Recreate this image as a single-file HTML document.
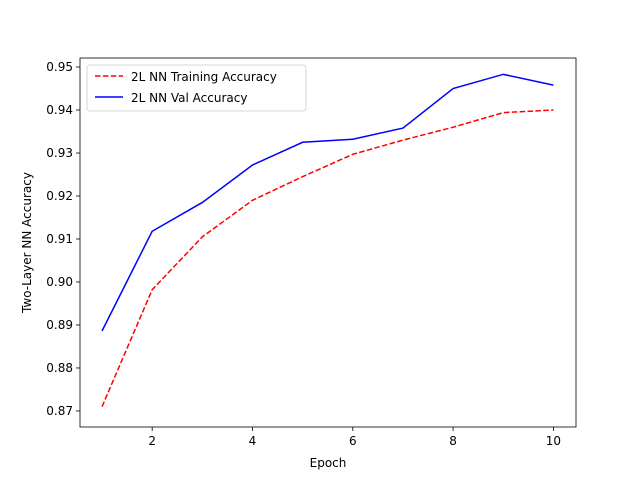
<!DOCTYPE html>
<html><head><meta charset="utf-8"><style>body{margin:0;background:#fff}svg{display:block;font-family:"DejaVu Sans","Liberation Sans",sans-serif}</style></head>
<body>
<svg id="chart" width="640" height="480" xmlns="http://www.w3.org/2000/svg"></svg>
<script>
const epochs=[1,2,3,4,5,6,7,8,9,10];
const trainAcc=[0.871,0.8982,0.9105,0.919,0.9245,0.9297,0.933,0.936,0.9394,0.940];
const valAcc=[0.8886,0.9118,0.9185,0.9272,0.9325,0.9332,0.9358,0.945,0.9483,0.9458];
const xTicks=[2,4,6,8,10];
const yTicks=[0.87,0.88,0.89,0.90,0.91,0.92,0.93,0.94,0.95];
const L=80,R=576,T=58,B=427;
const x0=0.561,x1=10.45,y0=0.86627,y1=0.9521;
const sx=v=>L+(v-x0)/(x1-x0)*(R-L);
const sy=v=>B-(v-y0)/(y1-y0)*(B-T);
const svg=document.getElementById('chart');
const NS='http://www.w3.org/2000/svg';
function mk(t,a,txt){const e=document.createElementNS(NS,t);for(const k in a)e.setAttribute(k,a[k]);if(txt!==undefined)e.textContent=txt;svg.appendChild(e);return e;}
let e;
xTicks.forEach(v=>{const X=sx(v);
e=mk('line',{x1:X,x2:X,y1:B,y2:B+4,stroke:'#000','stroke-width':0.8});


e=mk('text',{x:X,y:B+18,'font-size':12,'text-anchor':'middle'},String(v));

});
yTicks.forEach(v=>{const Y=sy(v);
e=mk('line',{x1:L-4,x2:L,y1:Y,y2:Y,stroke:'#000','stroke-width':0.8});


e=mk('text',{x:L-7,y:Y+4,'font-size':12,'text-anchor':'end'},v.toFixed(2));

});
function line(data,color,dash,name){const pts=epochs.map((ep,i)=>sx(ep)+','+sy(data[i])).join(' ');
const a={points:pts,fill:'none',stroke:color,'stroke-width':1.5};if(dash)a['stroke-dasharray']=dash;
e=mk('polyline',a);

}
line(trainAcc,'#ff0000','5.5,2.4','train-accuracy-line');
line(valAcc,'#0000ff',null,'val-accuracy-line');
e=mk('rect',{x:L,y:T,width:R-L,height:B-T,fill:'none',stroke:'#000','stroke-width':0.8});


e=mk('text',{x:(L+R)/2,y:467,'font-size':12,'text-anchor':'middle'},'Epoch');


e=mk('text',{x:31,y:(T+B)/2,'font-size':12,'text-anchor':'middle',transform:'rotate(-90 31 '+((T+B)/2)+')'},'Two-Layer NN Accuracy');


e=mk('rect',{x:87,y:65,width:219,height:46,rx:3,fill:'#fff','fill-opacity':0.8,stroke:'#ccc','stroke-width':0.8});


e=mk('line',{x1:95,x2:123,y1:76,y2:76,stroke:'#ff0000','stroke-width':1.5,'stroke-dasharray':'5.5,2.4'});


e=mk('text',{x:131,y:81,'font-size':12},'2L NN Training Accuracy');


e=mk('line',{x1:95,x2:123,y1:97,y2:97,stroke:'#0000ff','stroke-width':1.5});


e=mk('text',{x:131,y:102,'font-size':12},'2L NN Val Accuracy');


</script>
</body></html>
